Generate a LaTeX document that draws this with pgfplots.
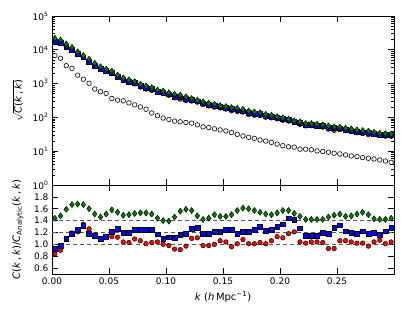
\documentclass[border=0pt]{standalone}
\usepackage{pgfplots}
\pgfplotsset{compat=1.18}
\usepackage{pgfplotstable}
\usepackage{fontspec}
\setmainfont{DejaVu Sans}
\definecolor{mgreen}{rgb}{0,0.5,0}
\definecolor{dgray}{rgb}{0.35,0.35,0.35}

\pgfplotstableread{
k o r b g
0.0025 6760 16600 17500 21900
0.0075 5620 15200 15800 19500
0.0125 3390 12300 12300 14800
0.0175 2820 9870 9870 11750
0.0225 1780 7400 7490 8710
0.0275 1350 6080 6020 6760
0.0325 1020 4670 4520 5250
0.0375 692 3500 3460 3980
0.0425 575 2750 2720 3160
0.0475 513 2340 2340 2690
0.0525 363 1990 2050 2340
0.0575 324 1510 1600 1780
0.0625 309 1240 1320 1480
0.0675 269 1070 1150 1290
0.0725 234 978 1035 1150
0.0775 204 793 860 955
0.0825 174 689 766 851
0.0875 135 630 691 759
0.0925 112 549 581 646
0.0975 95.5 510 537 603
0.1025 87.1 451 483 537
0.1075 77.6 378 417 479
0.1125 74.1 347 393 457
0.1175 70.8 317 350 407
0.1225 67.6 305 327 363
0.1275 60.3 282 301 324
0.1325 52.5 239 262 288
0.1375 50.1 217 238 263
0.1425 45.7 201 220 245
0.1475 42.7 190 204 224
0.1525 39.8 176 192 209
0.1575 35.5 156 177 195
0.1625 31.6 149 162 186
0.1675 28.2 143 151 174
0.1725 25.7 122 135 155
0.1775 24.0 116 129 145
0.1825 21.4 113 126 138
0.1875 20.0 101 111 123
0.1925 18.2 96.6 105 115
0.1975 16.2 90.3 96.6 105
0.2025 14.5 82.1 89.9 97.7
0.2075 13.5 77.5 85.5 89.1
0.2125 13.2 70.7 76.2 79.4
0.2175 11.5 62.2 68.9 74.1
0.2225 11.5 56.2 59.5 66.1
0.2275 11.0 56.8 59.5 66.1
0.2325 10.2 54.3 56.8 63.1
0.2375 9.77 51.3 55.2 60.3
0.2425 9.33 45.0 50.6 56.2
0.2475 8.71 41.5 48.8 52.5
0.2525 8.32 43.1 48.0 51.3
0.2575 7.76 40.7 43.6 47.9
0.2625 7.24 38.4 41.1 45.7
0.2675 6.92 35.0 37.6 42.7
0.2725 6.46 33.0 36.2 40.7
0.2775 6.17 31.1 34.6 38.9
0.2825 5.89 30.9 33.0 36.3
0.2875 5.50 29.5 30.5 33.9
0.2925 5.13 27.8 30.8 33.1
0.2975 4.68 27.5 30.5 32.4
}\toptable

\pgfplotstableread{
k rr rb rg
0.0025 0.84 0.92 1.44
0.0075 0.90 0.97 1.48
0.0125 1.10 1.10 1.59
0.0175 1.19 1.18 1.67
0.0225 1.21 1.24 1.68
0.0275 1.34 1.31 1.67
0.0325 1.26 1.18 1.60
0.0375 1.16 1.14 1.51
0.0425 1.10 1.09 1.46
0.0475 1.13 1.13 1.51
0.0525 1.13 1.21 1.58
0.0575 1.12 1.26 1.54
0.0625 1.04 1.19 1.49
0.0675 1.03 1.19 1.50
0.0725 1.09 1.24 1.52
0.0775 1.06 1.24 1.53
0.0825 1.01 1.24 1.53
0.0875 1.03 1.24 1.51
0.0925 1.04 1.17 1.44
0.0975 1.00 1.10 1.40
0.1025 0.98 1.12 1.39
0.1075 0.92 1.11 1.46
0.1125 0.91 1.16 1.56
0.1175 0.97 1.18 1.59
0.1225 1.10 1.26 1.57
0.1275 1.11 1.28 1.48
0.1325 0.98 1.18 1.42
0.1375 0.98 1.18 1.44
0.1425 1.00 1.21 1.50
0.1475 1.06 1.21 1.47
0.1525 1.04 1.25 1.47
0.1575 0.96 1.25 1.50
0.1625 1.01 1.18 1.57
0.1675 1.08 1.21 1.61
0.1725 1.01 1.21 1.60
0.1775 1.01 1.25 1.57
0.1825 1.03 1.29 1.54
0.1875 1.01 1.23 1.51
0.1925 1.06 1.25 1.50
0.1975 1.13 1.30 1.53
0.2025 1.11 1.34 1.57
0.2075 1.18 1.44 1.57
0.2125 1.21 1.41 1.52
0.2175 1.04 1.27 1.47
0.2225 1.02 1.14 1.42
0.2275 1.04 1.14 1.42
0.2325 1.04 1.15 1.42
0.2375 1.03 1.19 1.42
0.2425 0.93 1.18 1.46
0.2475 0.93 1.28 1.49
0.2525 1.06 1.32 1.51
0.2575 1.06 1.22 1.47
0.2625 1.04 1.19 1.48
0.2675 1.02 1.18 1.51
0.2725 1.02 1.22 1.54
0.2775 0.97 1.18 1.50
0.2825 1.04 1.19 1.43
0.2875 1.07 1.16 1.42
0.2925 1.01 1.22 1.42
0.2975 1.04 1.28 1.44
}\bottable

\pgfplotsset{
  every axis/.append style={
    scale only axis,
    width=342pt,
    xmin=0, xmax=0.3,
    tick align=inside,
    major tick length=6pt,
    minor tick length=3pt,
    axis line style={line width=0.8pt},
    every tick/.style={black, line width=0.6pt},
    tick label style={font=\fontsize{9}{10}\selectfont},
    label style={font=\fontsize{10}{12}\selectfont},
    /pgf/number format/assume math mode=true,
    xtick={0,0.05,0.1,0.15,0.2,0.25},
  },
}

\begin{document}
\begin{tikzpicture}
\path[use as bounding box] (-52pt,-38pt) rectangle (363pt,274pt);

\begin{axis}[
  at={(0,0)}, anchor=south west,
  height=89pt,
  ymin=0.5, ymax=2.0,
  ytick={0.6,0.8,1.0,1.2,1.4,1.6,1.8},
  yticklabel style={/pgf/number format/fixed, /pgf/number format/fixed zerofill, /pgf/number format/precision=1},
  xticklabel style={/pgf/number format/fixed, /pgf/number format/fixed zerofill, /pgf/number format/precision=2},
  xlabel={\textit{k} (\textit{h}\,Mpc\textsuperscript{−1})},
  ylabel={\textit{C}(\textit{k}\,,\,\textit{k})/\textit{C}\textsubscript{Analytic}(\textit{k}\,,\,\textit{k})},
  xlabel style={at={(axis description cs:0.5,0)}, anchor=north, yshift=-14pt},
  ylabel style={at={(axis description cs:-0.1,0.5)}, anchor=center},
]
\addplot[dgray, dashed, line width=0.9pt, dash pattern=on 4pt off 3pt, forget plot] coordinates {(0,1.0) (0.3,1.0)};
\addplot[dgray, dashed, line width=0.9pt, dash pattern=on 4pt off 3pt, forget plot] coordinates {(0,1.2) (0.3,1.2)};
\addplot[dgray, dashed, line width=0.9pt, dash pattern=on 4pt off 3pt, forget plot] coordinates {(0,1.4) (0.3,1.4)};
\addplot[only marks, mark=*, mark size=2.3pt, mark options={draw=black, fill=red, line width=0.5pt}] table[x=k, y=rr] {\bottable};
\addplot[only marks, mark=square*, mark size=2.4pt, mark options={draw=black, fill=blue, line width=0.5pt}] table[x=k, y=rb] {\bottable};
\addplot[only marks, mark=diamond*, mark size=3pt, mark options={draw=black, fill=mgreen, line width=0.5pt}] table[x=k, y=rg] {\bottable};
\end{axis}

\begin{axis}[
  at={(0,89pt)}, anchor=south west,
  height=169pt,
  ymode=log,
  ymin=1, ymax=100000,
  ytick={1,10,100,1000,10000,100000},
  yticklabels={10\textsuperscript{0},10\textsuperscript{1},10\textsuperscript{2},10\textsuperscript{3},10\textsuperscript{4},10\textsuperscript{5}},
  xticklabels={},
  ylabel={$\sqrt{\mbox{\textit{C}(\textit{k}\,,\,\textit{k})}}$},
  ylabel style={at={(axis description cs:-0.1,0.5)}, anchor=center},
]
\addplot[only marks, mark=*, mark size=2.3pt, mark options={draw=black, fill=white, line width=0.6pt}] table[x=k, y=o] {\toptable};
\addplot[only marks, mark=*, mark size=2.3pt, mark options={draw=black, fill=red, line width=0.5pt}] table[x=k, y=r] {\toptable};
\addplot[only marks, mark=square*, mark size=2.4pt, mark options={draw=black, fill=blue, line width=0.5pt}] table[x=k, y=b] {\toptable};
\addplot[only marks, mark=diamond*, mark size=3pt, mark options={draw=black, fill=mgreen, line width=0.5pt}] table[x=k, y=g] {\toptable};
\end{axis}
\end{tikzpicture}
\end{document}
